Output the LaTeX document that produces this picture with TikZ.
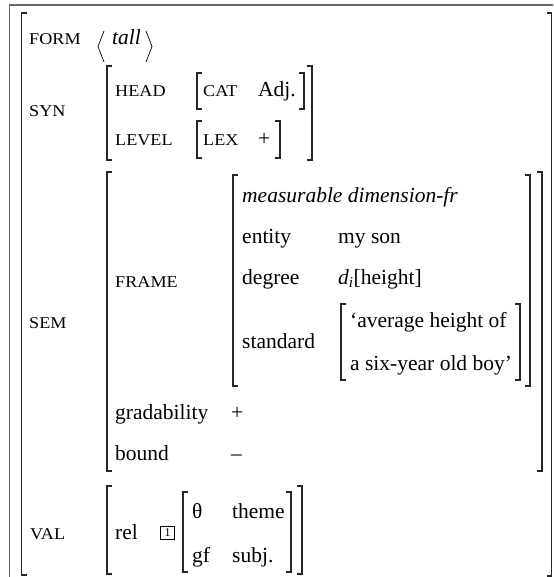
\documentclass[tikz,border=0pt]{standalone}
\usepackage{fontspec}
\usepackage{graphicx}
\setmainfont{Liberation Serif}
\newcommand\smc[1]{\scalebox{1.1}[1]{#1}}
\newcommand\LBk[3]{\draw[brk] (#1+5,#2) -- (#1,#2) -- (#1,#3) -- (#1+5,#3);}
\newcommand\RBk[3]{\draw[brk] (#1-5,#2) -- (#1,#2) -- (#1,#3) -- (#1-5,#3);}
\tikzset{
  txt/.style={anchor=base west, inner sep=0pt, font=\fontsize{21.5}{24}\selectfont},
  lab/.style={anchor=base west, inner sep=0pt, font=\fontsize{16.5}{18}\selectfont},
  brk/.style={line width=1.3pt, black!85, line cap=butt, line join=miter},
  framestyle/.style={line width=1.1pt, black!60},
  angl/.style={line width=0.7pt, black},
}
\begin{document}
\begin{tikzpicture}[x=1pt,y=-1pt]
\useasboundingbox (0,0) rectangle (553,577);
\clip (0,0) rectangle (553,577);
\draw[framestyle] (9.5,5) rectangle (700,700);
% outer
\LBk{21.5}{13}{575}
\RBk{551.5}{13}{576}
% FORM
\node[lab] (form) at (29,44.5) {\smc{FORM}};
\node[txt] (tall) at (112,44.5) {\itshape tall};
\draw[angl] (104,31) -- (98,46.5) -- (104,62);
\draw[angl] (146,31) -- (152,46.5) -- (146,62);
% SYN
\node[lab] (syn) at (29,117) {\smc{SYN}};
\LBk{107}{66}{160}
\RBk{312}{66}{160}
\node[lab] (head) at (115,97) {\smc{HEAD}};
\LBk{197}{73}{109}
\node[lab] (cat) at (203,97) {\smc{CAT}};
\node[txt] (adj) at (258,97) {Adj.};
\RBk{304}{73}{109}
\node[lab] (level) at (115,146) {\smc{LEVEL}};
\LBk{197}{121}{158}
\node[lab] (lex) at (203,146) {\smc{LEX}};
\node[txt] (lexv) at (258,146) {+};
\RBk{280}{121}{158}
% SEM
\node[lab] (sem) at (29,328) {\smc{SEM}};
\LBk{107}{172}{471}
\RBk{542}{172}{471}
\node[lab] (frame) at (115,287) {\smc{FRAME}};
\LBk{233}{175}{386}
\RBk{530}{175}{386}
\node[txt] (mdf) at (242,203) {\itshape measurable dimension-fr};
\node[txt] (entity) at (242,243) {entity};
\node[txt] (entv) at (338,243) {my son};
\node[txt] (degree) at (242,284) {degree};
\node[txt] (degv) at (338,284) {{\itshape d}\textsubscript{\itshape i}[height]};
\node[txt] (standard) at (242,348) {standard};
\LBk{341}{304}{380}
\RBk{520}{304}{380}
\node[txt] (std1) at (350,327) {‘average height of};
\node[txt] (std2) at (350,370) {a six-year old boy’};
\node[txt] (grad) at (115,419) {gradability};
\node[txt] (gradv) at (231,419) {+};
\node[txt] (bound) at (115,460) {bound};
\node[txt] (boundv) at (231,460) {--};
% VAL
\node[lab] (val) at (30,539) {\smc{VAL}};
\LBk{107}{486}{574}
\RBk{302}{486}{574}
\node[txt] (rel) at (115,539) {rel};
\node[draw, line width=0.6pt, minimum width=14pt, minimum height=13pt, inner sep=0pt, font=\fontsize{12}{12}\selectfont] (tag) at (167.5,532.5) {1};
\LBk{183}{492}{572}
\RBk{291}{492}{572}
\node[txt] (theta) at (192,518) {θ};
\node[txt] (theme) at (232,518) {theme};
\node[txt] (gf) at (192,562) {gf};
\node[txt] (subj) at (232,562) {subj.};
\end{tikzpicture}
\end{document}
